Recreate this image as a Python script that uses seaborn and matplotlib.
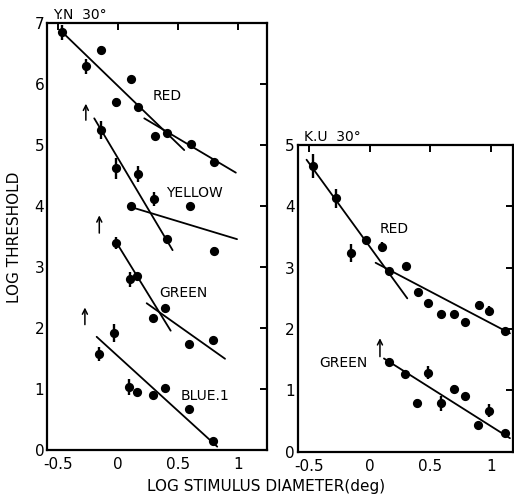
import numpy as np
import pandas as pd
import matplotlib
matplotlib.use("Agg")
import matplotlib.pyplot as plt
import seaborn as sns

sns.set_theme(style="white")
plt.rcParams['font.family'] = ['DejaVu Sans']
plt.rcParams['text.color'] = 'black'
plt.rcParams['axes.labelcolor'] = 'black'

# ---------------- data: left panel (Y.N 30°) ----------------
yn_red_x = [-0.467, -0.27, -0.144, 0.106, -0.019, 0.167, 0.306, 0.403, 0.603, 0.80]
yn_red_y = [6.85, 6.29, 6.56, 6.08, 5.70, 5.62, 5.15, 5.20, 5.02, 4.72]
yn_red_e = [0.12, 0.12, 0.06, 0, 0.08, 0, 0, 0, 0, 0]

yn_yel_x = [-0.144, -0.019, 0.167, 0.11, 0.30, 0.60, 0.403, 0.80]
yn_yel_y = [5.25, 4.62, 4.53, 4.00, 4.12, 4.00, 3.47, 3.27]
yn_yel_e = [0.15, 0.17, 0.13, 0.06, 0.11, 0, 0, 0.06]

yn_grn_x = [-0.019, 0.098, 0.16, 0.29, 0.39, 0.59, 0.79]
yn_grn_y = [3.40, 2.80, 2.85, 2.17, 2.33, 1.74, 1.81]
yn_grn_e = [0.10, 0.12, 0.06, 0, 0, 0, 0]

yn_blu_x = [-0.158, -0.033, 0.092, 0.153, 0.29, 0.39, 0.59, 0.79]
yn_blu_y = [1.58, 1.92, 1.04, 0.96, 0.90, 1.02, 0.67, 0.16]
yn_blu_e = [0.12, 0.15, 0.13, 0, 0, 0, 0, 0]

# fitted line segments: (x0, x1), (y0, y1)
yn_lines = {
    "red_a": ([-0.486, 0.55], [6.89, 4.92]),
    "red_b": ([0.217, 0.98], [5.44, 4.55]),
    "yel_a": ([-0.20, 0.453], [5.44, 3.28]),
    "yel_b": ([0.083, 0.99], [4.00, 3.46]),
    "grn_a": ([-0.02, 0.437], [3.42, 1.96]),
    "grn_b": ([0.237, 0.89], [2.41, 1.50]),
    "blu_a": ([-0.18, 0.825], [1.86, 0.06]),
}
# upward arrows: x, y_bottom, y_top
yn_arrow_x = [-0.27, -0.158, -0.278]
yn_arrow_y0 = [5.41, 3.56, 2.06]
yn_arrow_y1 = [5.68, 3.85, 2.34]

yn_labels = ["RED", "YELLOW", "GREEN", "BLUE.1"]
yn_label_x = [0.29, 0.40, 0.34, 0.52]
yn_label_y = [5.80, 4.22, 2.58, 0.89]

# ---------------- data: right panel (K.U 30°) ----------------
ku_red_x = [-0.469, -0.281, -0.16, -0.033, 0.102, 0.157, 0.295, 0.397, 0.477, 0.59, 0.695, 0.786, 0.899, 0.987, 1.114]
ku_red_y = [4.66, 4.13, 3.24, 3.45, 3.34, 2.95, 3.03, 2.60, 2.43, 2.24, 2.24, 2.11, 2.39, 2.30, 1.97]
ku_red_e = [0.19, 0.16, 0.15, 0, 0.08, 0, 0, 0, 0, 0, 0, 0, 0.06, 0.07, 0]

ku_grn_x = [0.157, 0.29, 0.386, 0.48, 0.585, 0.695, 0.786, 0.893, 0.982, 1.114]
ku_grn_y = [1.46, 1.26, 0.80, 1.29, 0.79, 1.03, 0.90, 0.43, 0.67, 0.31]
ku_grn_e = [0.06, 0, 0.06, 0.10, 0.12, 0.06, 0, 0, 0.10, 0]

ku_lines = {
    "red_a": ([-0.524, 0.309], [4.76, 2.50]),
    "red_b": ([0.047, 1.158], [3.08, 1.93]),
    "grn_a": ([0.116, 1.158], [1.52, 0.22]),
}
ku_arrow_x = [0.083]
ku_arrow_y0 = [1.55]
ku_arrow_y1 = [1.85]

ku_labels = ["RED", "GREEN"]
ku_label_x = [0.083, -0.42]
ku_label_y = [3.63, 1.45]

x_ticks = [-0.5, 0, 0.5, 1]
x_ticklabels = ["-0.5", "0", "0.5", "1"]

# ---------------- figure ----------------
fig = plt.figure(figsize=(5.14, 4.99), dpi=100)
axL = fig.add_axes([0.0914, 0.0976, 0.4274, 0.856])
axR = fig.add_axes([0.579, 0.0948, 0.419, 0.6146])


def draw_panel(ax, series, lines, ax_x, ay0, ay1, labels, lx, ly, xlim, ymax, title):
    for xs, ys, es in series:
        df = pd.DataFrame({"x": xs, "y": ys, "e": es})
        eb = df[df.e > 0]
        ax.errorbar(eb.x, eb.y, yerr=eb.e, fmt="none", ecolor="black",
                    elinewidth=1.7, capsize=0, zorder=3)
        sns.scatterplot(data=df, x="x", y="y", ax=ax, color="black", s=44,
                        edgecolor="black", linewidth=0, zorder=4, legend=False)
    rows = []
    for name, (lxs, lys) in lines.items():
        for xv, yv in zip(lxs, lys):
            rows.append({"seg": name, "x": xv, "y": yv})
    ldf = pd.DataFrame(rows)
    sns.lineplot(data=ldf, x="x", y="y", units="seg", estimator=None, ax=ax,
                 color="black", linewidth=1.3, sort=False, legend=False, zorder=2)
    for x, y0, y1 in zip(ax_x, ay0, ay1):
        ax.annotate("", xy=(x, y1), xytext=(x, y0),
                    arrowprops=dict(arrowstyle="->", lw=1.1, color="black",
                                    mutation_scale=9, shrinkA=0, shrinkB=0))
    for t, x, y in zip(labels, lx, ly):
        ax.text(x, y, t, fontsize=10, va="center", ha="left", color="black")
    ax.set_xlim(*xlim)
    ax.set_ylim(0, ymax)
    ax.set_xticks(x_ticks)
    ax.set_xticklabels(x_ticklabels)
    ax.set_yticks(range(0, ymax + 1))
    ax.set_xlabel("")
    ax.set_ylabel("")
    ax.tick_params(direction="in", length=5, width=1.4, top=True, right=True,
                   labeltop=False, labelright=False, labelsize=11, colors="black")
    ax.tick_params(axis="x", pad=5)
    ax.tick_params(axis="y", pad=2)
    for s in ax.spines.values():
        s.set_visible(True)
        s.set_linewidth(1.6)
        s.set_color("black")
    ax.text(0.03, 1.003, title, transform=ax.transAxes, fontsize=10,
            ha="left", va="bottom", color="black")


draw_panel(axL,
           [(yn_red_x, yn_red_y, yn_red_e), (yn_yel_x, yn_yel_y, yn_yel_e),
            (yn_grn_x, yn_grn_y, yn_grn_e), (yn_blu_x, yn_blu_y, yn_blu_e)],
           yn_lines, yn_arrow_x, yn_arrow_y0, yn_arrow_y1,
           yn_labels, yn_label_x, yn_label_y, (-0.594, 1.237), 7, "Y.N  30°")

draw_panel(axR,
           [(ku_red_x, ku_red_y, ku_red_e), (ku_grn_x, ku_grn_y, ku_grn_e)],
           ku_lines, ku_arrow_x, ku_arrow_y0, ku_arrow_y1,
           ku_labels, ku_label_x, ku_label_y, (-0.598, 1.183), 5, "K.U  30°")

fig.text(0.518, 0.026, "LOG STIMULUS DIAMETER(deg)", fontsize=11,
         ha="center", va="center", color="black")
fig.text(0.028, 0.525, "LOG THRESHOLD", fontsize=11, rotation=90,
         ha="center", va="center", color="black")

fig.savefig("out.png", dpi=100, facecolor="white")
